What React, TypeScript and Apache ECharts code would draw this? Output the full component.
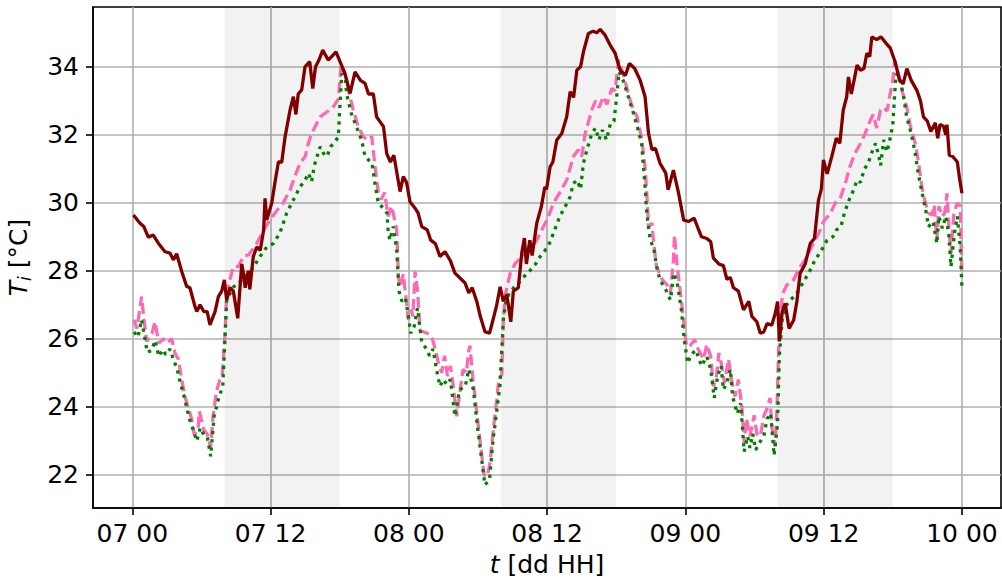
import React, { useEffect, useRef } from "react";
import * as echarts from "echarts";

// ---- axis ticks (hours since 07 00) ----
const xTickValues = [0, 12, 24, 36, 48, 60, 72];
const xTickLabels = ["07 00", "07 12", "08 00", "08 12", "09 00", "09 12", "10 00"];
const yTickValues = [22, 24, 26, 28, 30, 32, 34];

// ---- shaded daytime spans (hours) ----
const daytimeSpans: [number, number][] = [
  [8, 18],
  [32, 42],
  [56, 66],
];

// ---- solid maroon series: [hour, temperature] ----
const maroonSeries: [number, number][] = [
  [0.1, 29.64], [0.67, 29.4], [1.0, 29.3], [1.39, 28.99], [1.82, 29.05], [2.26, 28.81], [2.84, 28.56], [3.27, 28.52],
  [3.56, 28.32], [3.85, 28.5], [4.29, 27.98], [4.72, 27.54], [5.0, 27.5], [5.44, 26.95], [5.6, 26.8], [5.88, 27.0],
  [6.2, 26.8], [6.5, 26.8], [6.74, 26.41], [7.18, 26.8], [7.47, 27.24], [7.76, 27.4], [7.99, 27.73], [8.19, 27.14],
  [8.48, 27.5], [8.77, 27.4], [9.15, 26.6], [9.5, 28.2], [9.64, 27.93], [9.8, 27.5], [10.07, 28.0], [10.2, 27.45],
  [10.5, 28.42], [10.8, 28.7], [11.1, 28.6], [11.4, 29.2], [11.52, 30.13], [11.67, 29.5], [12.1, 29.99], [12.39, 30.62],
  [12.68, 31.2], [12.97, 31.2], [13.26, 31.94], [13.69, 32.73], [13.98, 33.12], [14.2, 32.6], [14.4, 33.2], [14.7, 33.32],
  [14.99, 34.0], [15.4, 34.15], [15.66, 33.36], [15.9, 34.0], [16.2, 34.2], [16.53, 34.49], [17.0, 34.2], [17.3, 34.3],
  [17.68, 34.44], [18.03, 34.15], [18.46, 33.8], [18.9, 33.22], [19.33, 33.85], [19.8, 33.6], [20.2, 33.51], [20.5, 33.2],
  [20.92, 33.2], [21.2, 32.53], [21.8, 32.24], [22.08, 31.45], [22.4, 31.2], [22.7, 31.4], [23.24, 30.33], [23.52, 30.77],
  [23.8, 30.6], [24.1, 30.03], [24.54, 29.84], [24.8, 29.7], [25.12, 29.3], [25.6, 29.2], [25.9, 28.9], [26.3, 28.8],
  [26.7, 28.42], [27.14, 28.56], [27.6, 28.3], [28.0, 27.93], [28.4, 27.8], [28.88, 27.64], [29.2, 27.35], [29.5, 27.5],
  [29.9, 27.09], [30.2, 26.66], [30.6, 26.21], [31.0, 26.16], [31.3, 26.55], [31.6, 26.95], [31.92, 27.53], [32.2, 27.1],
  [32.5, 27.3], [32.85, 26.5], [33.07, 27.4], [33.5, 27.5], [33.8, 28.52], [34.03, 28.96], [34.2, 28.2], [34.5, 28.9],
  [34.7, 28.45], [35.1, 29.4], [35.5, 29.89], [35.8, 30.46], [35.95, 30.4], [36.26, 31.06], [36.5, 31.2], [36.84, 31.85],
  [37.27, 32.04], [37.7, 32.53], [38.0, 33.27], [38.3, 33.1], [38.58, 33.9], [38.9, 34.0], [39.15, 34.44], [39.58, 34.98],
  [40.0, 35.05], [40.3, 35.0], [40.6, 35.1], [41.0, 34.95], [41.47, 34.64], [41.9, 34.4], [42.34, 33.9], [42.8, 33.75],
  [43.14, 34.1], [43.6, 33.95], [44.07, 33.61], [44.5, 33.12], [44.8, 32.05], [45.1, 31.56], [45.4, 31.6], [45.8, 31.16],
  [46.3, 30.87], [46.5, 30.38], [46.96, 30.96], [47.4, 30.3], [47.85, 29.49], [48.3, 29.45], [48.76, 29.55], [49.1, 29.25],
  [49.4, 29.0], [49.86, 28.95], [50.2, 28.85], [50.43, 28.37], [50.9, 28.2], [51.3, 28.15], [51.6, 27.75], [51.9, 27.8],
  [52.17, 27.5], [52.6, 27.4], [53.04, 26.85], [53.5, 27.1], [53.77, 26.66], [54.2, 26.5], [54.5, 26.16], [54.8, 26.2],
  [55.1, 26.45], [55.5, 26.4], [55.8, 26.75], [56.0, 27.09], [56.16, 25.92], [56.4, 26.8], [56.66, 27.04], [57.0, 26.3],
  [57.4, 26.55], [57.67, 27.09], [57.96, 27.93], [58.4, 28.2], [58.83, 28.8], [59.2, 28.95], [59.55, 30.08], [59.8, 30.4],
  [59.98, 31.26], [60.3, 30.85], [60.7, 31.36], [61.1, 31.9], [61.4, 31.75], [61.7, 32.73], [62.0, 33.12], [62.15, 33.7],
  [62.4, 33.2], [62.9, 34.05], [63.2, 33.9], [63.5, 33.95], [63.75, 34.4], [64.0, 34.3], [64.18, 34.88], [64.6, 34.8],
  [64.97, 34.88], [65.4, 34.7], [65.77, 34.56], [66.2, 34.15], [66.58, 33.61], [66.9, 33.5], [67.22, 33.95], [67.6, 33.6],
  [68.1, 33.3], [68.4, 33.0], [68.66, 32.53], [69.0, 32.4], [69.3, 32.1], [69.7, 32.35], [69.9, 31.9], [70.1, 32.3],
  [70.4, 32.25], [70.6, 32.0], [70.7, 32.3], [70.9, 31.4], [71.2, 31.36], [71.6, 31.2], [71.8, 30.7], [72.0, 30.28],
];

// ---- dashed pink series ----
const pinkSeries: [number, number][] = [
  [0.15, 26.56], [0.4, 26.3], [0.81, 27.24], [1.0, 26.6], [1.25, 25.92], [1.7, 26.15], [1.97, 26.5], [2.3, 25.87],
  [2.7, 26.0], [3.0, 25.87], [3.42, 26.0], [3.7, 25.58], [4.0, 25.4], [4.29, 24.79], [4.6, 24.26], [4.86, 23.97],
  [5.2, 23.58], [5.36, 23.18], [5.7, 23.33], [5.82, 23.86], [6.2, 23.33], [6.5, 23.2], [6.8, 22.8], [7.0, 23.7],
  [7.3, 24.45], [7.6, 24.79], [7.8, 24.9], [8.05, 26.15], [8.19, 27.34], [8.5, 27.78], [8.77, 28.12], [9.2, 28.12],
  [9.64, 28.42], [10.1, 28.47], [10.8, 28.8], [11.4, 29.2], [11.95, 29.5], [12.5, 29.75], [13.1, 30.0], [13.7, 30.38],
  [14.1, 30.77], [14.56, 31.16], [15.0, 31.36], [15.28, 31.75], [15.56, 32.04], [15.86, 32.24], [16.3, 32.53], [16.6, 32.6],
  [17.0, 32.7], [17.4, 32.8], [17.88, 33.05], [18.12, 34.05], [18.45, 33.8], [18.75, 33.3], [19.18, 32.73], [19.6, 32.24],
  [20.05, 31.94], [20.5, 31.85], [20.78, 31.95], [21.1, 30.96], [21.35, 30.3], [21.6, 30.1], [21.9, 30.3], [22.2, 29.6],
  [22.5, 29.9], [22.7, 29.6], [22.95, 29.2], [23.1, 27.8], [23.24, 27.53], [23.52, 27.9], [23.7, 27.35], [23.96, 26.56],
  [24.2, 26.85], [24.35, 26.66], [24.54, 27.98], [24.75, 27.44], [24.97, 26.25], [25.3, 26.2], [25.6, 26.16], [25.99, 26.05],
  [26.3, 25.68], [26.56, 25.3], [26.85, 25.0], [27.1, 25.5], [27.35, 24.9], [27.6, 25.2], [27.86, 24.6], [28.16, 23.72],
  [28.5, 24.6], [28.7, 25.1], [29.0, 25.0], [29.17, 25.6], [29.3, 25.8], [29.6, 24.7], [29.9, 23.82], [30.2, 22.93],
  [30.53, 22.0], [30.8, 21.95], [31.04, 22.34], [31.3, 23.23], [31.63, 24.2], [31.8, 24.79], [32.07, 24.95], [32.2, 26.56],
  [32.4, 27.34], [32.8, 27.93], [33.2, 28.2], [33.8, 28.42], [34.2, 28.5], [34.67, 28.7], [35.1, 28.9], [35.68, 29.3],
  [36.0, 29.5], [36.55, 29.99], [37.1, 30.3], [37.7, 30.67], [38.28, 31.36], [38.7, 31.56], [39.0, 31.36], [39.3, 32.04],
  [39.88, 32.73], [40.2, 33.0], [40.5, 32.8], [40.88, 33.12], [41.2, 32.9], [41.6, 33.36], [41.9, 33.3], [42.2, 34.2],
  [42.5, 33.9], [42.9, 33.4], [43.3, 32.9], [43.8, 32.53], [44.2, 31.9], [44.5, 31.06], [44.7, 30.0], [44.8, 29.3],
  [45.1, 29.4], [45.25, 28.8], [45.5, 28.12], [46.0, 27.73], [46.4, 27.59], [46.7, 27.34], [46.96, 28.3], [47.05, 29.05],
  [47.3, 28.1], [47.65, 27.14], [47.9, 26.35], [48.1, 25.77], [48.4, 25.8], [48.8, 25.97], [49.1, 25.7], [49.57, 25.4],
  [49.86, 25.83], [50.2, 25.48], [50.43, 24.6], [50.7, 24.9], [50.9, 25.58], [51.1, 25.3], [51.4, 24.7], [51.74, 25.4],
  [52.0, 24.8], [52.3, 24.3], [52.6, 24.8], [52.9, 24.0], [53.1, 22.93], [53.3, 23.65], [53.6, 23.13], [53.97, 23.75],
  [54.2, 23.2], [54.5, 23.13], [54.8, 23.72], [55.1, 23.96], [55.35, 24.26], [55.5, 23.4], [55.8, 22.83], [55.95, 24.0],
  [56.08, 25.58], [56.2, 26.66], [56.46, 27.34], [56.8, 27.58], [57.38, 27.73], [57.96, 28.12], [58.4, 28.32], [58.8, 28.6],
  [59.26, 28.9], [59.7, 29.2], [59.98, 29.45], [60.6, 29.7], [61.0, 29.99], [61.45, 30.15], [61.86, 30.55], [62.3, 31.08],
  [62.7, 31.45], [63.2, 31.75], [63.6, 32.04], [64.05, 32.43], [64.3, 32.6], [64.6, 32.2], [64.93, 32.73], [65.2, 32.8],
  [65.5, 32.7], [65.77, 33.2], [66.0, 33.6], [66.15, 34.15], [66.5, 33.8], [66.8, 33.3], [67.22, 32.8], [67.5, 32.3],
  [67.94, 31.75], [68.2, 31.26], [68.52, 30.47], [68.8, 30.03], [69.1, 29.7], [69.4, 29.64], [69.6, 29.94], [69.82, 28.9],
  [70.0, 29.9], [70.3, 29.6], [70.5, 29.7], [70.7, 30.28], [70.85, 29.4], [71.05, 28.52], [71.3, 29.7], [71.6, 29.99],
  [71.85, 29.9], [72.0, 27.83],
];

// ---- dotted green series ----
const greenSeries: [number, number][] = [
  [0.15, 26.2], [0.5, 26.05], [0.8, 26.56], [1.1, 26.0], [1.3, 25.6], [1.7, 25.66], [1.97, 25.95], [2.3, 25.48],
  [2.65, 25.68], [2.9, 25.53], [3.27, 25.7], [3.56, 25.4], [3.9, 25.1], [4.1, 24.8], [4.5, 24.3], [4.8, 23.86],
  [5.0, 23.6], [5.22, 23.38], [5.6, 22.99], [5.9, 23.38], [6.2, 23.18], [6.5, 23.13], [6.8, 22.54], [7.1, 23.72],
  [7.5, 24.26], [7.85, 24.6], [8.05, 26.05], [8.19, 27.14], [8.5, 27.34], [8.8, 27.53], [9.2, 27.63], [9.64, 27.78],
  [10.1, 27.93], [10.5, 28.1], [11.09, 28.42], [11.67, 28.7], [12.24, 28.8], [12.8, 29.1], [13.4, 29.7], [14.0, 30.1],
  [14.56, 30.47], [15.0, 30.67], [15.3, 30.87], [15.56, 30.62], [15.8, 31.1], [16.3, 31.65], [16.6, 31.45], [16.9, 31.36],
  [17.2, 31.65], [17.5, 31.75], [17.88, 31.94], [18.0, 32.73], [18.18, 33.8], [18.5, 33.6], [18.6, 33.2], [19.0, 32.63],
  [19.45, 32.24], [19.9, 31.85], [20.2, 31.36], [20.5, 31.26], [20.8, 31.16], [21.1, 30.47], [21.35, 29.99], [21.8, 29.84],
  [22.1, 29.7], [22.2, 29.2], [22.35, 28.9], [22.65, 29.3], [22.95, 28.6], [23.15, 27.4], [23.4, 27.1], [23.7, 27.2],
  [23.96, 26.66], [24.16, 26.16], [24.45, 26.35], [24.75, 26.9], [25.1, 25.95], [25.5, 25.7], [25.8, 25.5], [26.1, 25.7],
  [26.4, 25.1], [26.7, 24.6], [27.0, 24.8], [27.3, 24.65], [27.6, 24.8], [28.0, 23.72], [28.4, 24.5], [28.9, 24.6],
  [29.2, 25.1], [29.6, 24.5], [29.95, 23.43], [30.25, 22.64], [30.6, 21.7], [31.0, 21.85], [31.3, 23.0], [31.6, 23.8],
  [31.9, 24.6], [32.2, 26.56], [32.4, 27.04], [32.7, 27.34], [33.1, 27.5], [33.5, 27.63], [34.0, 27.83], [34.5, 28.0],
  [35.0, 28.2], [35.4, 28.42], [36.1, 28.72], [36.55, 29.1], [37.1, 29.6], [37.5, 29.84], [38.0, 30.18], [38.28, 30.57],
  [38.6, 30.67], [38.9, 30.4], [39.15, 31.16], [39.45, 31.56], [39.88, 32.04], [40.2, 32.2], [40.5, 31.85], [40.8, 32.14],
  [41.15, 31.85], [41.5, 32.34], [41.8, 32.4], [42.0, 33.0], [42.25, 33.85], [42.6, 33.6], [43.05, 33.12], [43.5, 32.63],
  [43.9, 32.14], [44.2, 31.75], [44.5, 30.47], [44.65, 29.7], [44.95, 28.9], [45.25, 28.67], [45.5, 28.12], [45.8, 27.73],
  [46.3, 27.44], [46.7, 27.14], [47.0, 27.93], [47.3, 27.63], [47.65, 26.85], [47.9, 25.97], [48.2, 25.28], [48.5, 25.53],
  [48.9, 25.67], [49.4, 25.2], [49.86, 25.48], [50.2, 25.1], [50.5, 24.26], [50.8, 24.9], [51.1, 25.2], [51.3, 24.5],
  [51.6, 24.7], [51.9, 25.1], [52.1, 24.3], [52.5, 23.8], [52.8, 24.1], [53.1, 22.68], [53.4, 23.13], [53.6, 22.79],
  [53.85, 23.2], [54.1, 22.73], [54.4, 22.93], [54.8, 23.13], [55.1, 23.65], [55.4, 23.8], [55.7, 22.57], [56.0, 23.5],
  [56.15, 25.48], [56.4, 26.56], [56.7, 26.95], [57.1, 27.14], [57.6, 27.3], [58.3, 27.7], [58.8, 28.0], [59.26, 28.32],
  [59.8, 28.6], [60.3, 28.9], [60.8, 29.0], [61.1, 29.2], [61.5, 29.3], [61.8, 29.7], [62.2, 30.08], [62.6, 30.38],
  [62.9, 30.67], [63.2, 30.6], [63.5, 30.96], [63.9, 31.2], [64.2, 31.5], [64.5, 31.75], [64.8, 31.36], [64.95, 31.1],
  [65.2, 31.85], [65.5, 31.5], [65.8, 31.94], [66.0, 32.3], [66.2, 33.4], [66.3, 33.8], [66.65, 33.6], [66.95, 33.1],
  [67.2, 32.53], [67.6, 32.04], [67.95, 31.45], [68.2, 30.87], [68.55, 30.28], [68.85, 29.8], [69.1, 29.3], [69.5, 29.45],
  [69.82, 28.8], [70.0, 29.6], [70.3, 29.25], [70.6, 29.6], [70.85, 29.1], [71.05, 28.12], [71.35, 29.1], [71.6, 29.6],
  [71.85, 28.7], [72.0, 27.5],
];

const FONT = "DejaVu Sans";
const FS = 25;

export default function App() {
  const ref = useRef<HTMLDivElement>(null);

  useEffect(() => {
    if (!ref.current) return;
    const chart = echarts.init(ref.current, undefined, { renderer: "svg" });
    const labelFor = (v: number) => {
      const i = xTickValues.indexOf(v);
      return i >= 0 ? xTickLabels[i] : "";
    };
    chart.setOption({
      animation: false,
      backgroundColor: "#ffffff",
      grid: {
        left: 93,
        right: 1,
        top: 7,
        bottom: 75,
        outerBoundsMode: "none",
        containLabel: false,
        show: true,
        borderColor: "#000000",
        borderWidth: 1.6,
        backgroundColor: "transparent",
      },
      xAxis: {
        type: "value",
        min: -3.41,
        max: 75.39,
        name: "{it|t} [dd HH]",
        nameLocation: "middle",
        nameGap: 44,
        nameTextStyle: {
          fontFamily: FONT,
          fontSize: FS,
          color: "#000",
          rich: {
            it: { fontFamily: FONT, fontSize: FS, fontStyle: "italic", color: "#000" },
          },
        },
        axisLine: { onZero: false, lineStyle: { color: "#000", width: 1.6 } },
        axisTick: { customValues: xTickValues, length: 7, lineStyle: { color: "#000", width: 1.6 } },
        axisLabel: {
          customValues: xTickValues,
          formatter: (v: number) => labelFor(v),
          fontFamily: FONT,
          fontSize: FS,
          color: "#000",
          margin: 13,
        },
        splitLine: { show: true, lineStyle: { color: "#b0b0b0", width: 1.6 } },
      },
      yAxis: {
        type: "value",
        min: 21.02,
        max: 35.76,
        name: "{it|T}{sub|i} [°C]",
        nameLocation: "middle",
        nameRotate: 90,
        nameGap: 60,
        nameTextStyle: {
          fontFamily: FONT,
          fontSize: FS,
          color: "#000",
          lineHeight: 30,
          rich: {
            it: { fontFamily: FONT, fontSize: FS, fontStyle: "italic", color: "#000", lineHeight: 30, verticalAlign: "middle" },
            sub: { fontFamily: FONT, fontSize: 17, fontStyle: "italic", color: "#000", lineHeight: 16, verticalAlign: "bottom" },
          },
        },
        axisLine: { show: true, onZero: false, lineStyle: { color: "#000", width: 1.6 } },
        axisTick: { show: true, customValues: yTickValues, length: 7, lineStyle: { color: "#000", width: 1.6 } },
        axisLabel: {
          customValues: yTickValues,
          formatter: (v: number) => String(v),
          fontFamily: FONT,
          fontSize: FS,
          color: "#000",
          margin: 14,
        },
        splitLine: { show: true, lineStyle: { color: "#b0b0b0", width: 1.6 } },
      },
      series: [
        {
          name: "pink",
          type: "line",
          data: pinkSeries,
          showSymbol: false,
          z: 2,
          lineStyle: { color: "#ff69b4", width: 3.3, type: [11, 5] },
          markArea: {
            silent: true,
            itemStyle: { color: "rgba(0,0,0,0.05)" },
            data: daytimeSpans.map(([a, b]) => [{ xAxis: a }, { xAxis: b }]),
          },
        },
        {
          name: "green",
          type: "line",
          data: greenSeries,
          showSymbol: false,
          z: 3,
          lineStyle: { color: "#008000", width: 3.3, type: [3.3, 5] },
        },
        {
          name: "maroon",
          type: "line",
          data: maroonSeries,
          showSymbol: false,
          z: 4,
          lineStyle: { color: "#800000", width: 3.3 },
        },
      ],
    });
    return () => chart.dispose();
  }, []);

  return (
    <div
      ref={ref}
      style={{ position: "absolute", left: 0, top: 0, width: 1002, height: 583 }}
    />
  );
}
